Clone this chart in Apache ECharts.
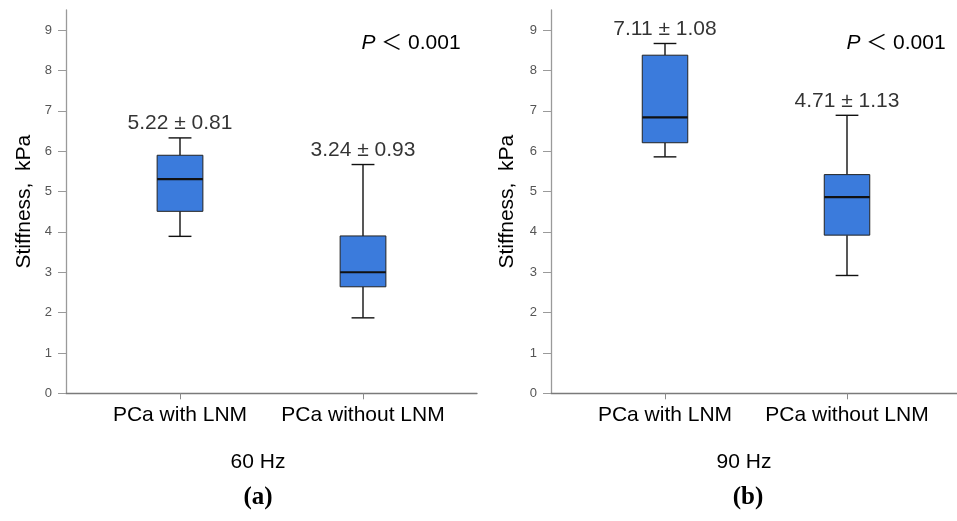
<!DOCTYPE html>
<html>
<head>
<meta charset="utf-8">
<script src="https://cdn.jsdelivr.net/npm/echarts@6/dist/echarts.min.js"></script>
<style>
  html, body { margin: 0; padding: 0; background: #fff; }
  #chart { width: 957px; height: 521px; }
</style>
</head>
<body>
<div id="chart"></div>
<script>
// categories and box values: [min, Q1, median, Q3, max]
let categories = ['PCa with LNM', 'PCa without LNM'];
let box60 = [[3.89, 4.51, 5.31, 5.90, 6.33], [1.87, 2.64, 3.00, 3.90, 5.67]];
let box90 = [[5.86, 6.21, 6.84, 8.38, 8.67], [2.92, 3.92, 4.86, 5.42, 6.89]];
let meanSd60 = ['5.22 ± 0.81', '3.24 ± 0.93'];
let meanSd90 = ['7.11 ± 1.08', '4.71 ± 1.13'];
let yTicks = [0, 1, 2, 3, 4, 5, 6, 7, 8, 9];
let yMax = 9.5;

let font = 'Liberation Sans, Arial, sans-serif';
let boxColor = '#3b7bdc';

// one box drawn from the axis scales
let renderBox = function (params, api) {
    let x = api.value(0);
    let lo = api.coord([x, api.value(1)]),
        q1 = api.coord([x, api.value(2)]),
        med = api.coord([x, api.value(3)]),
        q3 = api.coord([x, api.value(4)]),
        hi = api.coord([x, api.value(5)]);
    let band = api.size([1, 0])[0];
    let hw = band * 0.125, cw = band * 0.0625;
    let cx = lo[0];
    let line = function (x1, y1, x2, y2, w) {
        return { type: 'line', shape: { x1: x1, y1: y1, x2: x2, y2: y2 },
                 style: { stroke: '#111', lineWidth: w || 1.4 } };
    };
    return {
        type: 'group',
        children: [
            line(cx, hi[1], cx, q3[1]),
            line(cx, q1[1], cx, lo[1]),
            line(cx - cw, hi[1], cx + cw, hi[1]),
            line(cx - cw, lo[1], cx + cw, lo[1]),
            { type: 'rect', shape: { x: cx - hw, y: q3[1], width: hw * 2, height: q1[1] - q3[1] },
              style: { fill: boxColor, stroke: '#222', lineWidth: 1 } },
            line(cx - hw, med[1], cx + hw, med[1], 2.2)
        ]
    };
};

let toBoxData = function (boxes) {
    return boxes.map(function (b, i) { return [i].concat(b); });
};
let toLabelData = function (boxes) {
    return boxes.map(function (b, i) { return [i, b[4]]; });
};

// panel setup: axis grid (full axes) + box grid (category spacing)
let panels = [
    { axisLeft: 66, axisWidth: 411, boxLeft: 88.5, boxWidth: 366, boxes: box60, labels: meanSd60, nameGap: 31 },
    { axisLeft: 551, axisWidth: 406, boxLeft: 574, boxWidth: 364, boxes: box90, labels: meanSd90, nameGap: 33 }
];

let grids = [], xAxes = [], yAxes = [], series = [];
panels.forEach(function (p, k) {
    let ga = grids.length;
    grids.push({ left: p.axisLeft, top: 10, width: p.axisWidth, height: 383.3 });
    grids.push({ left: p.boxLeft, top: 10, width: p.boxWidth, height: 383.3 });

    xAxes.push({
        gridIndex: ga, type: 'value', min: 0, max: 1,
        axisLine: { show: true, lineStyle: { color: '#7a7a7a', width: 1.3 } },
        axisTick: { show: false }, axisLabel: { show: false }, splitLine: { show: false }
    });
    yAxes.push({
        gridIndex: ga, type: 'value', min: 0, max: yMax,
        name: 'Stiffness,  kPa', nameLocation: 'middle', nameGap: p.nameGap, nameRotate: 90,
        nameTextStyle: { fontFamily: font, fontSize: 21, color: '#000' },
        axisLine: { show: true, lineStyle: { color: '#9a9a9a', width: 1.3 } },
        axisTick: { show: true, length: 8, customValues: yTicks, lineStyle: { color: '#9a9a9a' } },
        axisLabel: { customValues: yTicks, fontFamily: font, fontSize: 13, color: '#555', margin: 14 },
        splitLine: { show: false }
    });
    xAxes.push({
        gridIndex: ga + 1, type: 'category', data: categories, boundaryGap: true,
        axisLine: { show: false },
        axisTick: { show: true, alignWithLabel: true, length: 6, lineStyle: { color: '#8a8a8a' } },
        axisLabel: { interval: 0, fontFamily: font, fontSize: 21, color: '#000', margin: 11 }
    });
    yAxes.push({ gridIndex: ga + 1, type: 'value', min: 0, max: yMax, show: false });

    series.push({
        type: 'custom', xAxisIndex: ga + 1, yAxisIndex: ga + 1,
        renderItem: renderBox,
        encode: { x: 0, y: [1, 2, 3, 4, 5] },
        data: toBoxData(p.boxes)
    });
    series.push({
        type: 'scatter', xAxisIndex: ga + 1, yAxisIndex: ga + 1,
        symbolSize: 0, silent: true,
        label: {
            show: true, position: 'top', distance: 4,
            fontFamily: font, fontSize: 21, color: '#000',
            formatter: function (d) { return p.labels[d.dataIndex]; }
        },
        data: toLabelData(p.boxes)
    });
});

let textEl = function (x, y, text, style) {
    return {
        type: 'text', x: x, y: y,
        style: Object.assign({ text: text, textAlign: 'center', textVerticalAlign: 'middle',
                               font: '21px ' + font, fill: '#000' }, style || {})
    };
};
let pText = function (x, y) {
    return textEl(x, y, '{i|P }{n|＜ 0.001}', {
        rich: {
            i: { fontFamily: font, fontSize: 21, fontStyle: 'italic', fill: '#000' },
            n: { fontFamily: 'Liberation Sans, Noto Sans CJK SC, sans-serif', fontSize: 21, fill: '#000' }
        }
    });
};

let chart = echarts.init(document.getElementById('chart'));
chart.setOption({
    backgroundColor: '#fff',
    animation: false,
    grid: grids,
    xAxis: xAxes,
    yAxis: yAxes,
    series: series,
    graphic: [
        pText(411, 43),
        pText(896, 43),
        textEl(258, 462, '60 Hz'),
        textEl(744, 462, '90 Hz'),
        textEl(258, 498, '(a)', { font: 'bold 25px Liberation Serif, Times New Roman, serif' }),
        textEl(748, 498, '(b)', { font: 'bold 25px Liberation Serif, Times New Roman, serif' })
    ]
});
</script>
</body>
</html>
